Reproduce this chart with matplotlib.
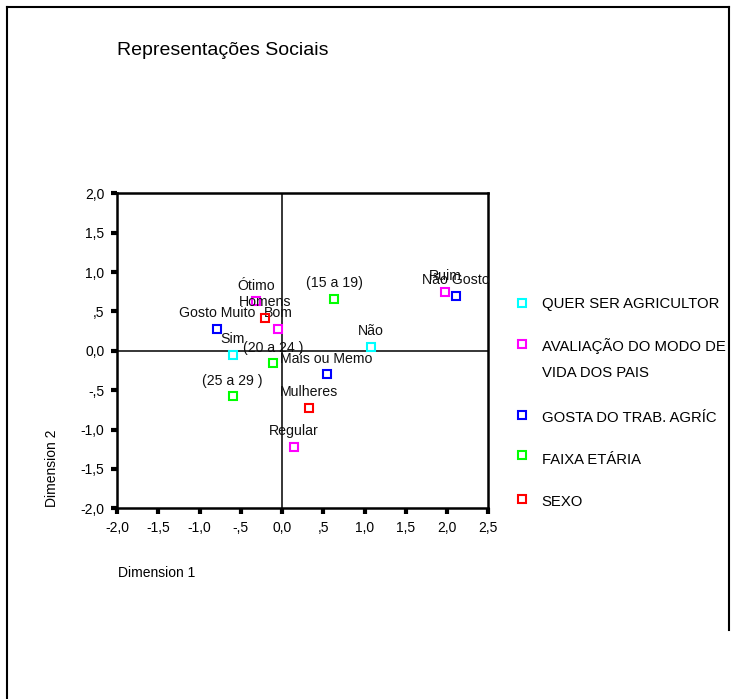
import matplotlib
matplotlib.use('Agg')
import matplotlib.pyplot as plt
from matplotlib.lines import Line2D

plt.rcParams['font.family'] = ['Liberation Sans', 'DejaVu Sans']

# groups of the correspondence map
groups = ['QUER SER AGRICULTOR', 'AVALIAÇÃO DO MODO DE\nVIDA DOS PAIS',
          'GOSTA DO TRAB. AGRÍC', 'FAIXA ETÁRIA', 'SEXO']
colors = ['#00ffff', '#ff00ff', '#0000ff', '#00ff00', '#ff0000']

quer_labels = ['Sim', 'Não']
quer_x = [-0.60, 1.08]
quer_y = [-0.05, 0.05]

aval_labels = ['Ótimo', 'Bom', 'Ruim', 'Regular']
aval_x = [-0.31, -0.05, 1.98, 0.14]
aval_y = [0.63, 0.28, 0.75, -1.22]

gosta_labels = ['Gosto Muito', 'Não Gosto', 'Mais ou Memo']
gosta_x = [-0.79, 2.11, 0.54]
gosta_y = [0.28, 0.70, -0.30]

faixa_labels = ['(15 a 19)', '(20 a 24 )', '(25 a 29 )']
faixa_x = [0.63, -0.11, -0.60]
faixa_y = [0.66, -0.16, -0.58]

sexo_labels = ['Homens', 'Mulheres']
sexo_x = [-0.21, 0.33]
sexo_y = [0.42, -0.72]

all_labels = [quer_labels, aval_labels, gosta_labels, faixa_labels, sexo_labels]
all_x = [quer_x, aval_x, gosta_x, faixa_x, sexo_x]
all_y = [quer_y, aval_y, gosta_y, faixa_y, sexo_y]

fig = plt.figure(figsize=(7.31, 6.99), dpi=100)
ax = fig.add_axes([0.1601, 0.2728, 0.668 - 0.1601, 0.7235 - 0.2728])

ax.axhline(0, color='black', lw=1.1, zorder=1)
ax.axvline(0, color='black', lw=1.1, zorder=1)

for labs, xs, ys, c in zip(all_labels, all_x, all_y, colors):
    ax.plot(xs, ys, ls='none', marker='s', ms=6, mfc='none', mec=c, mew=1.5, zorder=3)
    for lab, x, y in zip(labs, xs, ys):
        ax.annotate(lab, (x, y), xytext=(0, 8.4), textcoords='offset points',
                    ha='center', va='baseline', fontsize=10.2, color='#111111')

ax.set_xlim(-2, 2.5)
ax.set_ylim(-2, 2)
xt = [-2, -1.5, -1, -0.5, 0, 0.5, 1, 1.5, 2, 2.5]
yt = [-2, -1.5, -1, -0.5, 0, 0.5, 1, 1.5, 2]
xtl = ['-2,0', '-1,5', '-1,0', '-,5', '0,0', ',5', '1,0', '1,5', '2,0', '2,5']
ytl = ['-2,0', '-1,5', '-1,0', '-,5', '0,0', ',5', '1,0', '1,5', '2,0']
ax.set_xticks(xt)
ax.set_xticklabels(xtl)
ax.set_yticks(yt)
ax.set_yticklabels(ytl)
ax.tick_params(direction='out', length=4, width=3, labelsize=10, pad=5, color='black')
for s in ax.spines.values():
    s.set_linewidth(1.8)

fig.text(52 / 731, 1 - 468 / 699, 'Dimension 2', rotation=90, ha='center', va='center', fontsize=10)
fig.text(118 / 731, 1 - 573 / 699, 'Dimension 1', ha='left', va='center', fontsize=10)
fig.text(117 / 731, 1 - 55 / 699, 'Representações Sociais', ha='left', va='baseline', fontsize=14)

# legend drawn by hand (baseline of the last line of each label)
mark_y = [302.7, 343.5, 415, 455, 498.5]
text_y = [308, 377.5, 422, 464.5, 505.5]
for g, c, my, ty in zip(groups, colors, mark_y, text_y):
    fig.add_artist(Line2D([521.7 / 731], [1 - my / 699], ls='none', marker='s', ms=6,
                          mfc='none', mec=c, mew=1.5, transform=fig.transFigure))
    fig.text(541.7 / 731, 1 - ty / 699, g, ha='left', va='baseline',
             fontsize=10.7, linespacing=2.1)

# frame around the chart
fig.add_artist(Line2D([7 / 731, 7 / 731], [0, 1 - 7 / 699], color='black', lw=1.5))
fig.add_artist(Line2D([7 / 731, 729 / 731], [1 - 7 / 699, 1 - 7 / 699], color='black', lw=1.5))
fig.add_artist(Line2D([729 / 731, 729 / 731], [1 - 7 / 699, 1 - 630 / 699], color='black', lw=1.5))

fig.savefig('out.png', dpi=100)
